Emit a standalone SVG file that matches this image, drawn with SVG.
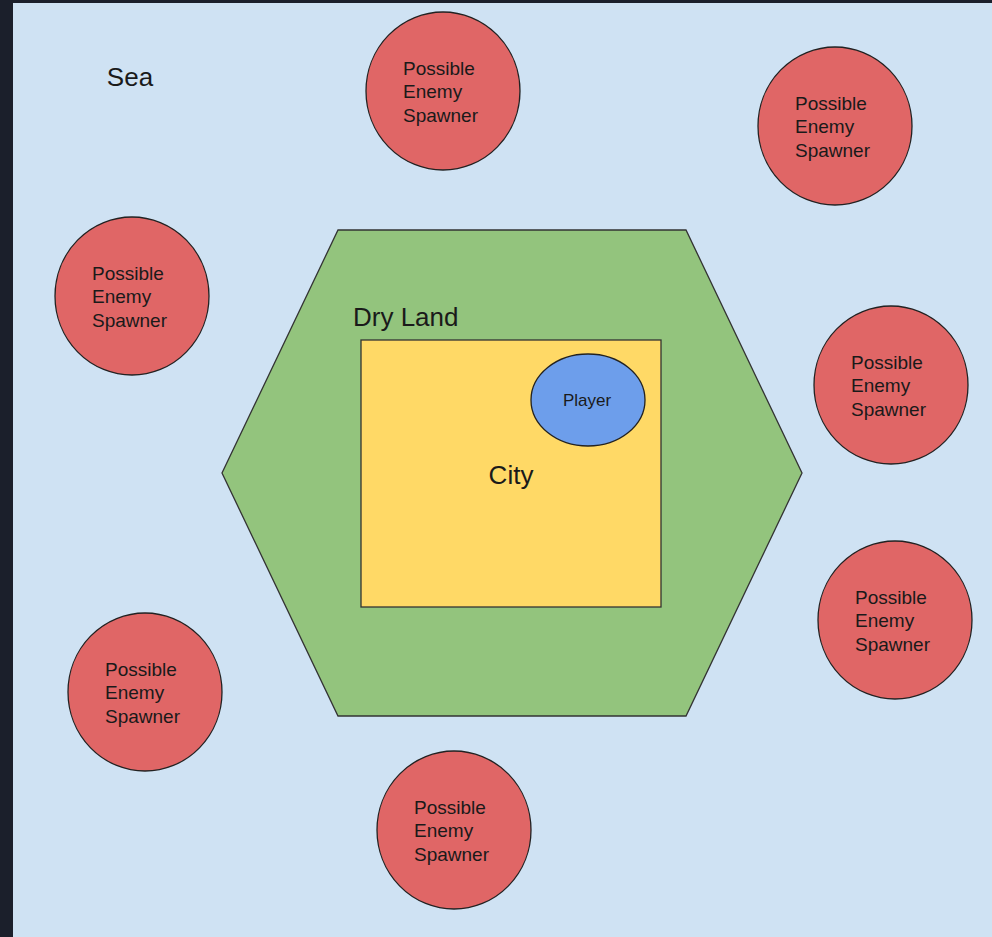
<svg xmlns="http://www.w3.org/2000/svg" width="992" height="937" viewBox="0 0 992 937">
<style>
.sp{fill:#e06666;stroke:#222;stroke-width:1.3}
.t{font-family:"Liberation Sans",Arial,sans-serif;fill:#1a1a1a}
.s{font-size:19px}
.l{font-size:26px}
</style>
<rect x="0" y="0" width="992" height="937" fill="#1b1f2b"/>
<rect x="13" y="3" width="979" height="934" fill="#cfe2f3"/>
<text class="t l" x="130" y="86" text-anchor="middle">Sea</text>
<g id="dryland">
<polygon points="338,230 686,230 802,473 686,716 338,716 222,473" fill="#93c47d" stroke="#333" stroke-width="1.3"/>
<text class="t l" x="353" y="326">Dry Land</text>
</g>
<g id="city">
<rect x="361" y="340" width="300" height="267" fill="#ffd966" stroke="#333" stroke-width="1.3"/>
<text class="t l" x="511" y="484" text-anchor="middle">City</text>
</g>
<g id="player">
<ellipse cx="588" cy="400" rx="57" ry="46" fill="#6d9eeb" stroke="#222" stroke-width="1.3"/>
<text class="t" font-size="17" x="587" y="406" text-anchor="middle">Player</text>
</g>
<g id="sp1"><ellipse class="sp" cx="443" cy="91" rx="77" ry="79"/><text class="t s" x="403"><tspan x="403" y="75">Possible</tspan><tspan x="403" y="98">Enemy</tspan><tspan x="403" y="122">Spawner</tspan></text></g>
<g id="sp2"><ellipse class="sp" cx="835" cy="126" rx="77" ry="79"/><text class="t s" x="795"><tspan x="795" y="110">Possible</tspan><tspan x="795" y="133">Enemy</tspan><tspan x="795" y="157">Spawner</tspan></text></g>
<g id="sp3"><ellipse class="sp" cx="132" cy="296" rx="77" ry="79"/><text class="t s" x="92"><tspan x="92" y="280">Possible</tspan><tspan x="92" y="303">Enemy</tspan><tspan x="92" y="327">Spawner</tspan></text></g>
<g id="sp4"><ellipse class="sp" cx="891" cy="385" rx="77" ry="79"/><text class="t s" x="851"><tspan x="851" y="369">Possible</tspan><tspan x="851" y="392">Enemy</tspan><tspan x="851" y="416">Spawner</tspan></text></g>
<g id="sp5"><ellipse class="sp" cx="895" cy="620" rx="77" ry="79"/><text class="t s" x="855"><tspan x="855" y="604">Possible</tspan><tspan x="855" y="627">Enemy</tspan><tspan x="855" y="651">Spawner</tspan></text></g>
<g id="sp6"><ellipse class="sp" cx="145" cy="692" rx="77" ry="79"/><text class="t s" x="105"><tspan x="105" y="676">Possible</tspan><tspan x="105" y="699">Enemy</tspan><tspan x="105" y="723">Spawner</tspan></text></g>
<g id="sp7"><ellipse class="sp" cx="454" cy="830" rx="77" ry="79"/><text class="t s" x="414"><tspan x="414" y="814">Possible</tspan><tspan x="414" y="837">Enemy</tspan><tspan x="414" y="861">Spawner</tspan></text></g>
<g id="connectors"/>
</svg>
